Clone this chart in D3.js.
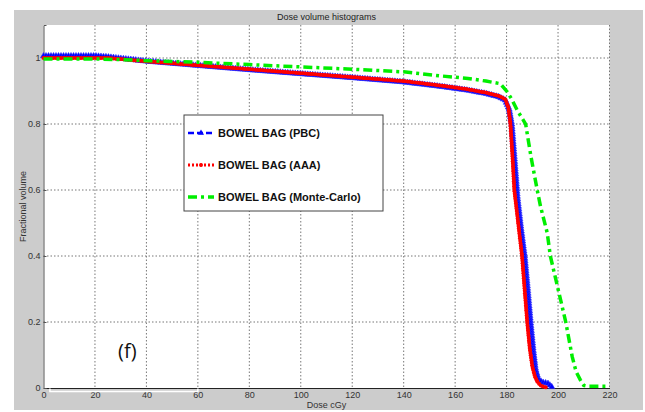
<!DOCTYPE html>
<html>
<head>
<meta charset="utf-8">
<script src="https://cdn.jsdelivr.net/npm/d3@7"></script>
<style>
  body { margin: 0; background: #fff; }
  .tick text { font-family: "Liberation Sans Narrow", "Liberation Sans", Arial, sans-serif; font-size: 9px; fill: #333; }
  .grid line { stroke: #777; stroke-dasharray: 1.5,2; }
</style>
</head>
<body>
<div id="chart"></div>
<script>
// Courbes DVH (dose en cGy, volume fractionnel)
let pbcDose = [0, 20, 25, 40, 60, 80, 100, 120, 140, 155, 165, 172, 177, 179.5, 181, 182, 183, 184.2, 185.5, 187, 188.2, 189.3, 190.3, 191.2, 192.4, 194, 196, 197.2, 198];
let pbcVol  = [1.006, 1.006, 1.003, 0.99, 0.977, 0.964, 0.952, 0.94, 0.927, 0.913, 0.902, 0.892, 0.882, 0.872, 0.845, 0.8, 0.7, 0.58, 0.49, 0.4, 0.3, 0.2, 0.12, 0.06, 0.025, 0.017, 0.014, 0.006, 0];

let aaaDose = [0, 20, 25, 40, 60, 80, 100, 120, 140, 155, 165, 172, 177, 179.5, 180.7, 181.5, 182.3, 183, 184.5, 186, 187, 188, 189, 190, 191, 192, 193.5, 196];
let aaaVol  = [1.0, 1.0, 1.0, 0.99, 0.978, 0.966, 0.954, 0.942, 0.93, 0.916, 0.905, 0.895, 0.885, 0.875, 0.85, 0.8, 0.7, 0.6, 0.5, 0.4, 0.3, 0.2, 0.12, 0.065, 0.035, 0.018, 0.006, 0];

let mcDose = [0, 20, 30, 40, 60, 80, 100, 120, 140, 154, 165, 172, 177.6, 180.2, 182, 184.1, 187.4, 189.5, 191.9, 193.2, 195.8, 197, 200, 203, 205.5, 207, 208.7, 210, 212, 220];
let mcVol  = [0.997, 0.997, 0.995, 0.992, 0.987, 0.98, 0.973, 0.966, 0.958, 0.946, 0.938, 0.93, 0.922, 0.898, 0.875, 0.842, 0.8, 0.7, 0.6, 0.55, 0.47, 0.4, 0.3, 0.2, 0.095, 0.05, 0.024, 0.008, 0.005, 0.005];

let seriesNames = ["BOWEL BAG (PBC)", "BOWEL BAG (AAA)", "BOWEL BAG (Monte-Carlo)"];
let xTicks = [0, 20, 40, 60, 80, 100, 120, 140, 160, 180, 200, 220];
let yTicks = [0, 0.2, 0.4, 0.6, 0.8, 1];

let W = 645, H = 412;
let plot = {left: 43.5, right: 609.5, top: 25, bottom: 388};

let svg = d3.select("#chart").append("svg")
            .attr("width", W)
            .attr("height", H);

// fond gris type figure MATLAB
svg.append("rect").attr("x", 14).attr("y", 10).attr("width", 629).attr("height", 400).attr("fill", "#cccccc");
svg.append("rect").attr("x", plot.left).attr("y", plot.top)
   .attr("width", plot.right - plot.left).attr("height", plot.bottom - plot.top)
   .attr("fill", "#fff");

let xScale = d3.scaleLinear().domain([0, 220]).range([plot.left, plot.right]);
let yScale = d3.scaleLinear().domain([0, 1.1]).range([plot.bottom, plot.top]);

// grille pointillée
let grid = svg.append("g").attr("class", "grid");
grid.selectAll(".gx").data(xTicks.slice(1)).enter().append("line")
    .attr("x1", d => xScale(d)).attr("x2", d => xScale(d))
    .attr("y1", plot.top).attr("y2", plot.bottom);
grid.selectAll(".gy").data(yTicks.slice(1)).enter().append("line")
    .attr("x1", plot.left).attr("x2", plot.right)
    .attr("y1", d => yScale(d)).attr("y2", d => yScale(d));

// axes
let xAxis = svg.append("g")
   .attr("transform", `translate(0,${plot.bottom})`)
   .call(d3.axisBottom(xScale).tickValues(xTicks).tickSize(0).tickPadding(4));
xAxis.select(".domain").attr("stroke", "#222");

let yAxis = svg.append("g")
   .attr("transform", `translate(${plot.left},0)`)
   .call(d3.axisLeft(yScale).tickValues(yTicks).tickFormat(d3.format("")).tickSize(-3).tickPadding(3));
yAxis.select(".domain").attr("stroke", "#555");
yAxis.selectAll(".tick line").attr("stroke", "#555");

// petit artefact blanc sous l'axe
svg.append("path")
   .attr("d", `M${xScale(2.5)},${plot.bottom + 0.5} v3 H${xScale(60)} v-3`)
   .attr("fill", "none").attr("stroke", "#fff").attr("stroke-width", 1.5);

// titres
svg.append("text").attr("x", (plot.left + plot.right) / 2).attr("y", 20)
   .attr("text-anchor", "middle")
   .style("font-family", "'Liberation Sans Narrow', 'Liberation Sans', Arial, sans-serif")
   .style("font-size", "9px").style("fill", "#222")
   .text("Dose volume histograms");

svg.append("text").attr("x", (plot.left + plot.right) / 2).attr("y", 408)
   .attr("text-anchor", "middle")
   .style("font-family", "'Liberation Sans Narrow', 'Liberation Sans', Arial, sans-serif")
   .style("font-size", "9px").style("fill", "#333")
   .text("Dose cGy");

svg.append("text")
   .attr("transform", `translate(26,${(plot.top + plot.bottom) / 2}) rotate(-90)`)
   .attr("text-anchor", "middle")
   .style("font-family", "'Liberation Sans Narrow', 'Liberation Sans', Arial, sans-serif")
   .style("font-size", "9px").style("fill", "#333")
   .text("Fractional volume");

// courbes
let line = d3.line().x(d => xScale(d[0])).y(d => yScale(d[1]));
let pbc = d3.zip(pbcDose, pbcVol);
let aaa = d3.zip(aaaDose, aaaVol);
let mc  = d3.zip(mcDose, mcVol);

let curves = svg.append("g");

function markersAlong(pathNode, step) {
  let len = pathNode.getTotalLength();
  let pts = [];
  for (let l = 0; l <= len; l += step) {
    let p = pathNode.getPointAtLength(l);
    pts.push([p.x, p.y]);
  }
  return pts;
}

// PBC : tirets bleus + triangles
let pbcPath = curves.append("path").datum(pbc)
    .attr("d", line).attr("fill", "none")
    .attr("stroke", "#0000ff").attr("stroke-width", 2.5)
    .attr("stroke-dasharray", "6,3");
let tri = d3.symbol().type(d3.symbolTriangle).size(16);
curves.append("g").selectAll("path")
    .data(markersAlong(pbcPath.node(), 2.5)).enter().append("path")
    .attr("d", tri)
    .attr("transform", d => `translate(${d[0]},${d[1]})`)
    .attr("fill", "#0000ff").attr("stroke", "#3030ff").attr("stroke-width", 0.6);

// AAA : pointillés rouges + points
let aaaPath = curves.append("path").datum(aaa)
    .attr("d", line).attr("fill", "none")
    .attr("stroke", "#ff0000").attr("stroke-width", 3)
    .attr("stroke-dasharray", "2,2");
curves.append("g").selectAll("circle")
    .data(markersAlong(aaaPath.node(), 2.5)).enter().append("circle")
    .attr("cx", d => d[0]).attr("cy", d => d[1]).attr("r", 2)
    .attr("fill", "#ff0000");

// Monte-Carlo : trait-point vert
curves.append("path").datum(mc)
    .attr("d", line).attr("fill", "none")
    .attr("stroke", "#00ee00").attr("stroke-width", 3.5)
    .attr("stroke-dasharray", "9,4,3,4");

// légende
let leg = svg.append("g");
leg.append("rect").attr("x", 184).attr("y", 115).attr("width", 199).attr("height", 96)
   .attr("fill", "#fff").attr("stroke", "#444").attr("stroke-width", 1);

let legY = [133, 165, 197];
let legStyles = [
  {color: "#0000ff", dash: "6,3", w: 2.5},
  {color: "#ff0000", dash: "2,2", w: 3},
  {color: "#00ee00", dash: "9,4,3,4", w: 3.5}
];
seriesNames.forEach((name, i) => {
  leg.append("line").attr("x1", 188).attr("x2", 214)
     .attr("y1", legY[i]).attr("y2", legY[i])
     .attr("stroke", legStyles[i].color).attr("stroke-width", legStyles[i].w)
     .attr("stroke-dasharray", legStyles[i].dash);
  if (i == 0) {
    leg.append("path").attr("d", tri).attr("transform", `translate(201,${legY[i]})`).attr("fill", "#0000ff");
  }
  if (i == 1) {
    leg.append("circle").attr("cx", 201).attr("cy", legY[i]).attr("r", 2).attr("fill", "#ff0000");
  }
  leg.append("text").attr("x", 218).attr("y", legY[i] + 4)
     .style("font-family", "'Liberation Sans', Arial, sans-serif")
     .style("font-size", "11px").style("font-weight", "bold").style("fill", "#111")
     .text(name);
});

// étiquette du panneau
svg.append("text").attr("x", 118).attr("y", 358)
   .style("font-family", "'Open Sans', 'Noto Sans', sans-serif")
   .style("font-size", "20px").style("fill", "#111")
   .text("(f)");
</script>
</body>
</html>
